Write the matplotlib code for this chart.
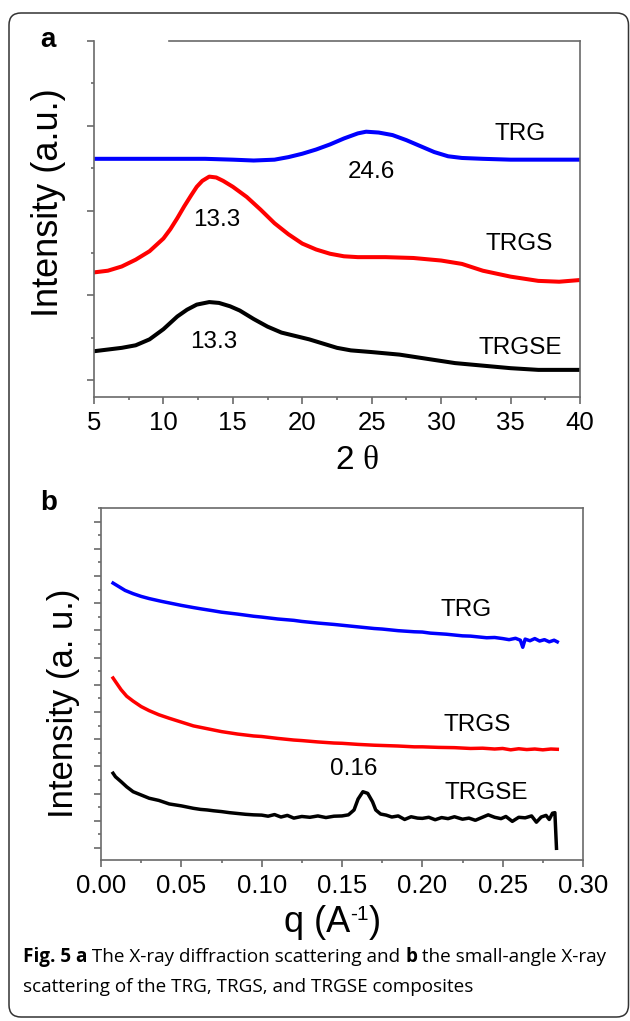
import matplotlib.pyplot as plt
from matplotlib.patches import FancyBboxPatch
from matplotlib.ticker import MultipleLocator, FixedLocator
from matplotlib.transforms import IdentityTransform

plt.rcParams['font.family'] = ['Liberation Sans', 'DejaVu Sans']
plt.rcParams['mathtext.fontset'] = 'custom'
plt.rcParams['mathtext.rm'] = 'Liberation Serif'

# (a) XRD patterns, 2-theta in degrees, intensity offset per sample
two_theta_trg = [5.0, 7.0, 9.0, 11.0, 13.0, 15.0, 16.5, 18.0, 19.0, 20.0, 21.0,
                 22.0, 23.0, 24.0, 24.6, 25.5, 26.5, 27.5, 28.5, 29.5, 30.5,
                 31.5, 33.0, 35.0, 37.0, 40.0]
xrd_trg = [2.81, 2.81, 2.81, 2.81, 2.81, 2.80, 2.79, 2.80, 2.83, 2.87, 2.92,
           2.98, 3.05, 3.11, 3.13, 3.12, 3.09, 3.03, 2.96, 2.89, 2.84,
           2.82, 2.81, 2.80, 2.80, 2.80]

two_theta_trgs = [5.0, 6.0, 7.0, 8.0, 9.0, 10.0, 10.5, 11.0, 11.5, 12.0, 12.4,
                  12.8, 13.3, 13.8, 14.3, 15.0, 16.0, 17.0, 18.0, 19.0, 20.0,
                  21.0, 22.0, 23.0, 24.0, 26.0, 28.0, 30.0, 31.5, 33.0, 35.0,
                  37.0, 38.5, 40.0]
xrd_trgs = [1.47, 1.49, 1.54, 1.62, 1.72, 1.87, 1.98, 2.11, 2.25, 2.38, 2.48,
            2.55, 2.60, 2.59, 2.55, 2.48, 2.36, 2.21, 2.05, 1.92, 1.81,
            1.74, 1.69, 1.66, 1.65, 1.65, 1.64, 1.61, 1.57, 1.49, 1.42,
            1.37, 1.36, 1.38]

two_theta_trgse = [5.0, 6.0, 7.0, 8.0, 9.0, 10.0, 11.0, 11.7, 12.4, 13.3, 14.0,
                   14.8, 15.5, 16.5, 17.5, 18.5, 19.5, 20.5, 21.5, 22.5, 23.5,
                   25.0, 27.0, 29.0, 31.0, 33.0, 35.0, 37.0, 40.0]
xrd_trgse = [0.54, 0.56, 0.58, 0.61, 0.68, 0.80, 0.95, 1.03, 1.09, 1.12, 1.11,
             1.07, 1.02, 0.92, 0.83, 0.76, 0.72, 0.68, 0.63, 0.58, 0.55,
             0.53, 0.50, 0.45, 0.40, 0.37, 0.34, 0.32, 0.32]

# (b) SAXS curves, q in 1/A
q_trg = [0.0075, 0.010, 0.0125, 0.015, 0.020, 0.025, 0.030, 0.0375, 0.045, 0.050,
         0.0575, 0.0625, 0.070, 0.075, 0.085, 0.095, 0.100, 0.110, 0.120, 0.125,
         0.135, 0.145, 0.150, 0.160, 0.170, 0.175, 0.185, 0.195, 0.200, 0.205,
         0.210, 0.215, 0.220, 0.225, 0.230, 0.235, 0.240, 0.245, 0.250, 0.254,
         0.258, 0.261, 0.2625, 0.264, 0.267, 0.270, 0.273, 0.276, 0.279, 0.282,
         0.284]
saxs_trg = [9.74, 9.65, 9.56, 9.47, 9.35, 9.25, 9.17, 9.07, 8.98, 8.92,
            8.84, 8.79, 8.72, 8.67, 8.60, 8.52, 8.49, 8.42, 8.37, 8.33,
            8.27, 8.22, 8.19, 8.13, 8.07, 8.05, 7.99, 7.95, 7.94, 7.90,
            7.88, 7.86, 7.83, 7.80, 7.79, 7.76, 7.73, 7.74, 7.70, 7.66,
            7.71, 7.64, 7.38, 7.68, 7.62, 7.70, 7.61, 7.66, 7.58, 7.64,
            7.58]

q_trgs = [0.0075, 0.009, 0.0125, 0.016, 0.020, 0.025, 0.030, 0.036, 0.0425, 0.050,
          0.0575, 0.065, 0.075, 0.085, 0.095, 0.100, 0.110, 0.120, 0.125, 0.135,
          0.145, 0.150, 0.160, 0.170, 0.175, 0.185, 0.195, 0.200, 0.210, 0.220,
          0.230, 0.2375, 0.245, 0.250, 0.255, 0.260, 0.265, 0.270, 0.275, 0.280,
          0.284]
saxs_trgs = [6.25, 6.12, 5.82, 5.58, 5.40, 5.20, 5.05, 4.90, 4.77, 4.63,
             4.49, 4.40, 4.28, 4.19, 4.12, 4.10, 4.03, 3.97, 3.95, 3.90,
             3.86, 3.85, 3.81, 3.78, 3.77, 3.75, 3.72, 3.72, 3.70, 3.69,
             3.66, 3.67, 3.64, 3.66, 3.61, 3.65, 3.62, 3.64, 3.61, 3.64,
             3.63]

q_trgse = [0.0075, 0.009, 0.0125, 0.016, 0.020, 0.025, 0.030, 0.036, 0.0425, 0.050,
           0.0575, 0.062, 0.066, 0.070, 0.075, 0.080, 0.085, 0.090, 0.095, 0.100,
           0.104, 0.108, 0.112, 0.116, 0.120, 0.125, 0.130, 0.135, 0.140, 0.145,
           0.150, 0.154, 0.1575, 0.160, 0.163, 0.166, 0.169, 0.171, 0.174, 0.1775,
           0.181, 0.185, 0.189, 0.193, 0.197, 0.200, 0.204, 0.208, 0.212, 0.216,
           0.220, 0.225, 0.229, 0.233, 0.237, 0.241, 0.245, 0.249, 0.252, 0.256,
           0.260, 0.264, 0.268, 0.271, 0.274, 0.277, 0.279, 0.281, 0.2825, 0.2835]
saxs_trgse = [2.75, 2.62, 2.44, 2.25, 2.07, 1.95, 1.83, 1.75, 1.62, 1.55,
              1.46, 1.42, 1.40, 1.37, 1.34, 1.30, 1.27, 1.24, 1.22, 1.21,
              1.17, 1.23, 1.14, 1.20, 1.10, 1.16, 1.13, 1.18, 1.12, 1.17,
              1.18, 1.22, 1.40, 1.80, 2.07, 2.01, 1.70, 1.40, 1.25, 1.21,
              1.14, 1.18, 1.05, 1.15, 1.10, 1.09, 1.13, 1.04, 1.12, 1.08,
              1.15, 1.06, 1.10, 1.02, 1.12, 1.22, 1.13, 1.08, 1.16, 0.98,
              1.13, 1.11, 1.18, 0.95, 1.14, 1.20, 1.05, 1.28, 1.30, -0.01]

W, H = 630, 1021
SPINE = '#6a6a6a'


def fx(px):
    return px / W


def fy(py):
    return 1 - py / H


def style_axes(ax):
    for s in ax.spines.values():
        s.set_color(SPINE)
        s.set_linewidth(1.2)
    ax.tick_params(which='both', direction='out', color=SPINE, width=1.2,
                   top=False, right=False, labelsize=18.5, pad=5)
    ax.tick_params(which='major', length=5)
    ax.tick_params(which='minor', length=2.5)
    ax.set_yticklabels([])


def text_runs(fig, x_px, y_px, runs, **kw):
    # lay out consecutive pieces of text left to right on one baseline
    renderer = fig.canvas.get_renderer()
    x = fx(x_px)
    for txt, opts in runs:
        dy = opts.pop('dy', 0)
        t = fig.text(x, fy(y_px + dy), txt, ha='left', **{**kw, **opts})
        x += t.get_window_extent(renderer).width / W


fig = plt.figure(figsize=(W / 100, H / 100), dpi=100)

# rounded frame around both panels and the caption
frame = FancyBboxPatch((9, H - 1017), 619.5, 1004,
                       boxstyle='round,pad=0,rounding_size=12',
                       transform=IdentityTransform(), fill=False,
                       edgecolor='#333333', linewidth=1.1)
fig.patches.append(frame)

# ---- panel a ----
ax_a = fig.add_axes([fx(94), fy(397), 486 / W, 356 / H])
ax_a.plot(two_theta_trg, xrd_trg, color='#0000ff', lw=2.9)
ax_a.plot(two_theta_trgs, xrd_trgs, color='#ff0000', lw=2.9)
ax_a.plot(two_theta_trgse, xrd_trgse, color='black', lw=2.9)
ax_a.set_xlim(5, 40)
ax_a.set_ylim(0, 4.2)
ax_a.xaxis.set_major_locator(MultipleLocator(5))
ax_a.xaxis.set_minor_locator(MultipleLocator(2.5))
ax_a.yaxis.set_major_locator(FixedLocator([0.2, 1.2, 2.2, 3.2, 4.2]))
ax_a.yaxis.set_minor_locator(FixedLocator([0.7, 1.7, 2.7, 3.7]))
style_axes(ax_a)
ax_a.spines['top'].set_bounds(10.4, 40)

ax_a.text(35.7, 3.10, 'TRG', fontsize=17.5, ha='center', va='center')
ax_a.text(25.0, 2.66, '24.6', fontsize=17.5, ha='center', va='center')
ax_a.text(13.85, 2.09, '13.3', fontsize=17.5, ha='center', va='center')
ax_a.text(35.6, 1.80, 'TRGS', fontsize=17.5, ha='center', va='center')
ax_a.text(13.6, 0.65, '13.3', fontsize=17.5, ha='center', va='center')
ax_a.text(35.7, 0.58, 'TRGSE', fontsize=17.5, ha='center', va='center')

fig.text(fx(48), fy(40), 'a', fontsize=20, fontweight='bold',
         ha='center', va='center')
fig.text(fx(49), fy(203), 'Intensity (a.u.)', fontsize=26, rotation=90,
         ha='center', va='center')
fig.text(fx(357), fy(460), r'2 $\mathrm{\theta}$', fontsize=24,
         ha='center', va='center')

# ---- panel b ----
ax_b = fig.add_axes([fx(101), fy(860), 482 / W, 352 / H])
ax_b.plot(q_trg, saxs_trg, color='#0000ff', lw=2.5)
ax_b.plot(q_trgs, saxs_trgs, color='#ff0000', lw=2.5)
ax_b.plot(q_trgse, saxs_trgse, color='black', lw=2.5)
ax_b.set_xlim(0, 0.30)
ax_b.set_ylim(-0.44, 12.5)
ax_b.xaxis.set_major_locator(MultipleLocator(0.05))
ax_b.xaxis.set_minor_locator(MultipleLocator(0.025))
ax_b.xaxis.set_major_formatter(lambda v, p: f'{v:.2f}')
ax_b.yaxis.set_major_locator(MultipleLocator(1))
ax_b.yaxis.set_minor_locator(MultipleLocator(0.5))
style_axes(ax_b)

ax_b.text(0.2275, 8.74, 'TRG', fontsize=17.5, ha='center', va='center')
ax_b.text(0.234, 4.53, 'TRGS', fontsize=17.5, ha='center', va='center')
ax_b.text(0.1575, 2.90, '0.16', fontsize=17.5, ha='center', va='center')
ax_b.text(0.240, 2.01, 'TRGSE', fontsize=17.5, ha='center', va='center')

fig.text(fx(49), fy(503), 'b', fontsize=20, fontweight='bold',
         ha='center', va='center')
fig.text(fx(63), fy(703), 'Intensity (a. u.)', fontsize=25, rotation=90,
         ha='center', va='center')
text_runs(fig, 284, 932, [('q (A', {'fontsize': 26}),
                          ('-1', {'fontsize': 15, 'dy': -12}),
                          (')', {'fontsize': 26})], va='baseline')

# ---- caption, mixed bold / regular runs ----
cap = {'family': ['Open Sans'], 'fontsize': 13.6, 'va': 'center'}
text_runs(fig, 23, 957, [('Fig. 5 a', {'fontweight': 'bold'}),
                         (' The X-ray diffraction scattering and ', {}),
                         ('b', {'fontweight': 'bold'}),
                         (' the small-angle X-ray', {})], **cap)
fig.text(fx(23), fy(987), 'scattering of the TRG, TRGS, and TRGSE composites',
         ha='left', **cap)

fig.savefig('out.png', dpi=100)
